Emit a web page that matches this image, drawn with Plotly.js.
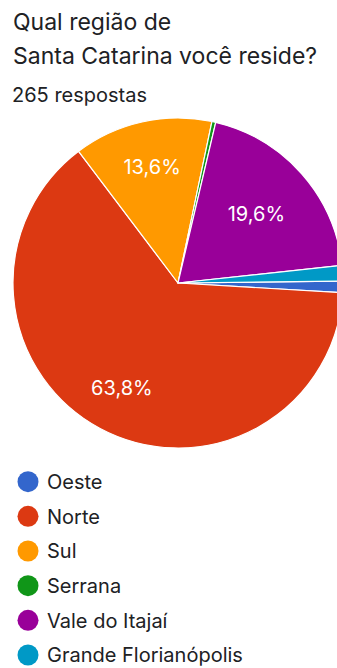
<!DOCTYPE html>
<html>
<head>
<meta charset="utf-8">
<script src="https://cdn.plot.ly/plotly-3.0.1.min.js"></script>
<style>
  html, body { margin: 0; padding: 0; overflow: hidden; background: #ffffff; }
  #chart { width: 356px; height: 668px; }
</style>
</head>
<body>
<div id="chart"></div>
<script>
// ---- data ----
const categories = ['Oeste', 'Norte', 'Sul', 'Serrana', 'Vale do Itajaí', 'Grande Florianópolis'];
const counts = [3, 169, 36, 1, 52, 4];
const colors = ['#3366cc', '#dc3912', '#ff9900', '#109618', '#990099', '#0099c6'];
const titleLines = ['Qual região de', 'Santa Catarina você reside?'];
const totalResponses = counts.reduce((a, b) => a + b, 0);
const subtitle = totalResponses + ' respostas';
// which slices carry a percentage label (placement group: 'outer' or 'inner')
const labelGroup = ['', 'outer', 'outer', '', 'inner', ''];
const rowIndex = categories.map((_, i) => i);

const FONT = 'Inter, Roboto, Arial, sans-serif';
const pct = '%{percent:.1%}';
const W = 356, H = 668, ML = 13, PW = 330;

const pieDomain = { x: [0, 1], y: [1 - 448 / H, 1 - 118 / H] };

const basePie = {
  type: 'pie',
  labels: categories,
  values: counts,
  sort: false,
  direction: 'clockwise',
  rotation: 89.3,
  marker: { colors: colors, line: { color: '#ffffff', width: 1.2 } },
  texttemplate: labelGroup.map(g => g === 'inner' ? pct : ''),
  textposition: 'inside',
  insidetextorientation: 'horizontal',
  textfont: { family: FONT, size: 20, color: '#ffffff' },
  domain: pieDomain,
  hoverinfo: 'skip',
  showlegend: false
};

const labelPie = {
  type: 'pie',
  labels: categories,
  values: counts,
  sort: false,
  direction: 'clockwise',
  rotation: 89.3,
  hole: 0.44,
  marker: { colors: categories.map(() => 'rgba(0,0,0,0)'), line: { width: 0 } },
  texttemplate: labelGroup.map(g => g === 'outer' ? pct : ''),
  textposition: 'inside',
  insidetextorientation: 'horizontal',
  textfont: { family: FONT, size: 20, color: '#ffffff' },
  domain: pieDomain,
  hoverinfo: 'skip',
  showlegend: false
};

const legendDots = {
  type: 'scatter',
  mode: 'markers',
  x: rowIndex.map(() => 0),
  y: rowIndex,
  marker: { size: 21, color: colors },
  xaxis: 'x', yaxis: 'y',
  hoverinfo: 'skip',
  showlegend: false,
  cliponaxis: false
};

const legendText = {
  type: 'scatter',
  mode: 'text',
  x: rowIndex.map(() => 1),
  y: rowIndex,
  text: categories,
  textposition: 'middle right',
  textfont: { family: FONT, size: 20, color: '#202124' },
  xaxis: 'x', yaxis: 'y2',
  hoverinfo: 'skip',
  showlegend: false,
  cliponaxis: false
};

function ann(text, xpx, ypx, size) {
  return {
    text: text,
    xref: 'paper', yref: 'paper',
    x: (xpx - ML) / PW, xanchor: 'left',
    y: 1 - ypx / H, yanchor: 'middle',
    showarrow: false,
    font: { family: FONT, size: size, color: '#202124' }
  };
}

const layout = {
  width: W,
  height: H,
  margin: { l: ML, r: W - ML - PW, t: 0, b: 0, pad: 0 },
  paper_bgcolor: '#ffffff',
  plot_bgcolor: '#ffffff',
  separators: ',.',
  showlegend: false,
  annotations: [
    ann(titleLines[0], 10.5, 22.1, 23),
    ann(titleLines[1], 10.5, 55.9, 23),
    ann(subtitle, 9.6, 95.4, 20)
  ],
  xaxis: { visible: false, range: [-15 / 19, -15 / 19 + PW / 19], fixedrange: true },
  yaxis: { visible: false, range: [5.375, -13.898], fixedrange: true },
  yaxis2: { visible: false, overlaying: 'y', range: [5.309, -13.964], fixedrange: true }
};

Plotly.newPlot('chart', [basePie, labelPie, legendDots, legendText], layout, { displayModeBar: false, staticPlot: true });
</script>
</body>
</html>
